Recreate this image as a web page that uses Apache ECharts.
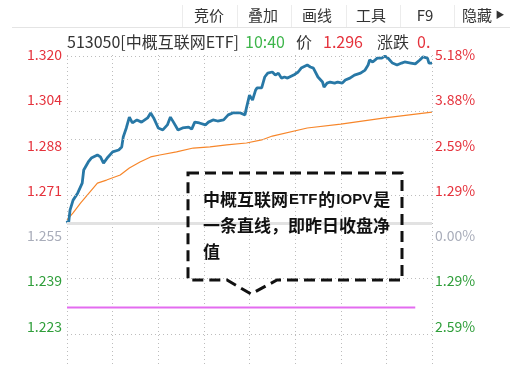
<!DOCTYPE html>
<html>
<head>
<meta charset="utf-8">
<script src="https://cdn.jsdelivr.net/npm/echarts@6/dist/echarts.min.js"></script>
<style>
  html, body { margin: 0; padding: 0; background: #fff; }
  #chart { width: 510px; height: 377px; }
</style>
</head>
<body>
<div id="chart"></div>
<script>
// 分时数据：分钟序号（0 = 9:30，120 = 11:30/13:00，240 = 15:00）
const priceMinutes = [0, 1, 2, 4, 7, 10, 11, 14, 16, 20, 22, 24, 27, 30, 34, 36, 37, 39, 41, 43, 46, 49, 53, 55, 57, 60,
  63, 66, 68, 70, 73, 76, 80, 82, 84, 87, 91, 93, 96, 99, 103, 106, 109, 114, 117, 118, 120, 122, 124, 125, 128, 130,
  132, 135, 137, 139, 141, 143, 145, 149, 152, 154, 158, 160, 162, 165, 168, 169, 171, 173, 176, 178, 181, 183, 186,
  189, 193, 196, 198, 199, 201, 204, 207, 209, 211, 214, 217, 220, 222, 226, 229, 232, 234, 237, 238, 240];
const prices = [1.2608, 1.2597, 1.2646, 1.2682, 1.2707, 1.2743, 1.2790, 1.2819, 1.2833, 1.2844, 1.2837, 1.2815, 1.2837,
  1.2855, 1.2862, 1.2873, 1.2909, 1.2941, 1.2980, 1.2959, 1.2970, 1.2962, 1.2977, 1.2995, 1.2977, 1.2941,
  1.2934, 1.2952, 1.2980, 1.2962, 1.2934, 1.2941, 1.2944, 1.2937, 1.2962, 1.2959, 1.2952, 1.2962, 1.2970, 1.2966,
  1.2970, 1.2988, 1.2995, 1.2995, 1.2988, 1.3013, 1.3059, 1.3041, 1.3077, 1.3085, 1.3085, 1.3124,
  1.3138, 1.3142, 1.3131, 1.3138, 1.3120, 1.3124, 1.3120, 1.3131, 1.3142, 1.3156, 1.3167, 1.3160, 1.3156, 1.3124,
  1.3106, 1.3088, 1.3102, 1.3106, 1.3102, 1.3106, 1.3102, 1.3113, 1.3120,
  1.3131, 1.3138, 1.3149, 1.3167, 1.3185, 1.3178, 1.3192, 1.3192, 1.3199, 1.3192, 1.3174, 1.3167, 1.3174, 1.3178,
  1.3174, 1.3171, 1.3185, 1.3196, 1.3192, 1.3174, 1.3174];

// 均价线
const avgMinutes = [0, 4, 9, 15, 20, 26, 35, 41, 48, 55, 61, 72, 83, 94, 105, 118, 128, 135, 158, 180, 209, 240];
const avgPrices = [1.2611, 1.2636, 1.2672, 1.2711, 1.2743, 1.2754, 1.2772, 1.2797, 1.2819, 1.2837, 1.2844, 1.2855,
  1.2869, 1.2873, 1.2880, 1.2887, 1.2898, 1.2912, 1.2941, 1.2955, 1.2977, 1.2998];

// IOPV（昨日收盘净值，一条直线）
const iopvMinutes = [0, 229];
const iopvPrices = [1.2296, 1.2296];

// 坐标轴刻度
const basePrice = 1.2553;
const tickValues = [1.2228, 1.2391, 1.2553, 1.2716, 1.2878, 1.3041, 1.3203];
const priceLabels = ['1.223', '1.239', '1.255', '1.271', '1.288', '1.304', '1.320'];
const pctLabels = ['2.59%', '1.29%', '0.00%', '1.29%', '2.59%', '3.88%', '5.18%'];
const yMin = 1.2090;
const yMax = 1.3203;

const FONT = '"Noto Sans CJK SC", "Microsoft YaHei", sans-serif';
const RED = '#e5323c';
const GREEN = '#2f9e3a';
const GRAY = '#a9adba';

const tickIndex = v => tickValues.findIndex(t => Math.abs(t - v) < 1e-6);
const labelColor = v => (Math.abs(v - basePrice) < 1e-6 ? GRAY : (v > basePrice ? RED : GREEN));

const pairs = (xs, ys) => xs.map((x, i) => [x, ys[i]]);

const chart = echarts.init(document.getElementById('chart'));

const toolbarItems = [
  { text: '竞价', x: 209 }, { text: '叠加', x: 263 }, { text: '画线', x: 317 },
  { text: '工具', x: 371 }, { text: 'F9', x: 425 }, { text: '隐藏', x: 477 }
];
const separators = [182, 237, 291, 346, 400, 454];

const graphics = [
  { type: 'line', shape: { x1: 12, y1: 27.5, x2: 510, y2: 27.5 }, style: { stroke: '#e4e4e4', lineWidth: 1 } },
  ...separators.map(x => ({
    type: 'line', shape: { x1: x + 0.5, y1: 5, x2: x + 0.5, y2: 27 }, style: { stroke: '#ececec', lineWidth: 1 }
  })),
  ...toolbarItems.map(t => ({
    type: 'text', x: t.x, y: 15,
    style: { text: t.text, font: '15px ' + FONT, fill: '#333', align: 'center', verticalAlign: 'middle' }
  })),
  { type: 'text', x: 500, y: 15, style: { text: '▶', font: '9px ' + FONT, fill: '#333', align: 'center', verticalAlign: 'middle' } },
  // 标题行
  { type: 'text', x: 67, y: 42, style: { text: '513050[中概互联网ETF]', font: '16px ' + FONT, fill: '#333', verticalAlign: 'middle' } },
  { type: 'text', x: 245, y: 42, style: { text: '10:40', font: '16px ' + FONT, fill: '#3db54a', verticalAlign: 'middle' } },
  { type: 'text', x: 296, y: 42, style: { text: '价', font: '16px ' + FONT, fill: '#333', verticalAlign: 'middle' } },
  { type: 'text', x: 323, y: 42, style: { text: '1.296', font: '16px ' + FONT, fill: RED, verticalAlign: 'middle' } },
  { type: 'text', x: 377, y: 42, style: { text: '涨跌', font: '16px ' + FONT, fill: '#333', verticalAlign: 'middle' } },
  { type: 'text', x: 417, y: 42, style: { text: '0.', font: '16px ' + FONT, fill: RED, verticalAlign: 'middle' } },
  // 注释框
  {
    type: 'polygon',
    shape: { points: [[188, 173], [402, 173], [402, 280], [277, 280], [251, 294], [227, 280], [188, 280]] },
    style: { fill: 'rgba(255,255,255,0)', stroke: '#111', lineWidth: 3, lineDash: [11, 6] },
    z: 10
  },
  {
    type: 'text', x: 203, y: 187, z: 11,
    style: {
      text: '{c|中概互联网}{e|ETF}{c|的}{e|IOPV}{c|是}\n{c|一条直线，即昨日收盘净}\n{c|值}',
      verticalAlign: 'top',
      rich: {
        c: { font: 'bold 17px ' + FONT, fill: '#111', lineHeight: 26 },
        e: { font: 'bold 15px "Liberation Sans", Arial, sans-serif', fill: '#111', lineHeight: 26, padding: [0, 1, 0, 1] }
      }
    }
  }
];

const option = {
  animation: false,
  backgroundColor: '#fff',
  grid: { left: 67, right: 78, top: 55, bottom: 12 },
  xAxis: {
    type: 'value', min: 0, max: 240, interval: 30,
    axisLine: { show: false }, axisTick: { show: false }, axisLabel: { show: false },
    splitLine: { show: true, lineStyle: { color: '#bdbdbd', type: [1, 3], width: 1 } }
  },
  yAxis: [
    {
      type: 'value', min: yMin, max: yMax, position: 'left',
      axisLine: { show: false }, axisTick: { show: false }, splitLine: { show: false },
      axisLabel: {
        customValues: tickValues, margin: 5, fontSize: 14, fontFamily: FONT,
        formatter: v => priceLabels[tickIndex(v)] || '',
        color: v => labelColor(v)
      }
    },
    {
      type: 'value', min: yMin, max: yMax, position: 'right',
      axisLine: { show: false }, axisTick: { show: false }, splitLine: { show: false },
      axisLabel: {
        customValues: tickValues, margin: 3, fontSize: 14, fontFamily: FONT,
        formatter: v => pctLabels[tickIndex(v)] || '',
        color: v => labelColor(v)
      }
    }
  ],
  series: [
    {
      name: 'IOPV', type: 'line', data: pairs(iopvMinutes, iopvPrices), showSymbol: false,
      lineStyle: { color: '#e36cf0', width: 2 },
      markLine: {
        silent: true, symbol: ['none', 'none'], label: { show: false },
        data: tickValues.map(v => ({
          yAxis: v,
          lineStyle: Math.abs(v - basePrice) < 1e-6
            ? { color: '#e2e2e2', type: 'solid', width: 3 }
            : { color: '#bdbdbd', type: [1, 3], width: 1 }
        }))
      }
    },
    {
      name: '均价', type: 'line', data: pairs(avgMinutes, avgPrices), showSymbol: false,
      lineStyle: { color: '#f7862a', width: 1.2 }
    },
    {
      name: '价格', type: 'line', data: pairs(priceMinutes, prices), showSymbol: false,
      lineStyle: { color: '#2878a6', width: 2.8 }
    }
  ],
  graphic: graphics
};

chart.setOption(option);
</script>
</body>
</html>
